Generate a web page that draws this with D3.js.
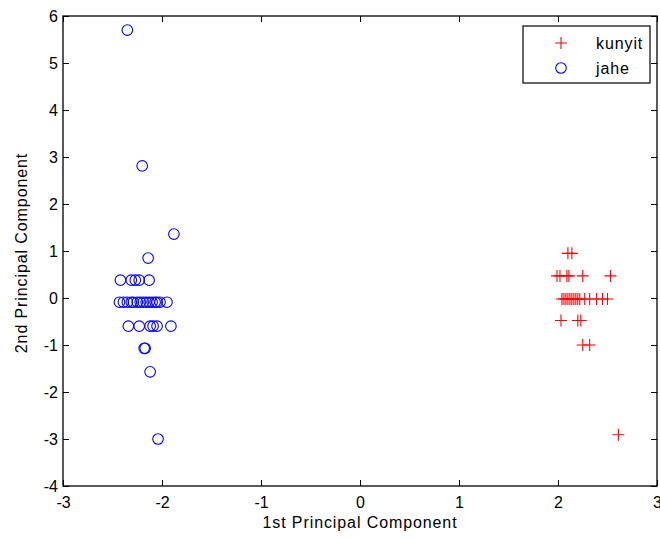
<!DOCTYPE html>
<html>
<head>
<meta charset="utf-8">
<script src="https://cdn.jsdelivr.net/npm/d3@7/dist/d3.min.js"></script>
<style>
  html, body { margin: 0; padding: 0; background: #fff; }
  svg { display: block; font-family: "Liberation Sans", Arial, sans-serif; }
</style>
</head>
<body>
<svg id="chart" width="660" height="538"></svg>
<script>
// PCA scores: jahe (ginger) samples
const jaheX = [-2.35, -2.20, -1.88, -2.14,
  -2.42, -2.31, -2.27, -2.23, -2.13,
  -2.43, -2.39, -2.35, -2.31, -2.29, -2.25, -2.22, -2.19, -2.16, -2.13, -2.10, -2.07, -2.05, -2.02, -1.95,
  -2.34, -2.23, -2.12, -2.09, -2.05, -1.91,
  -2.18, -2.17, -2.12, -2.04];
const jaheY = [5.70, 2.81, 1.36, 0.85,
  0.38, 0.38, 0.38, 0.38, 0.38,
  -0.09, -0.09, -0.09, -0.09, -0.09, -0.09, -0.09, -0.09, -0.09, -0.09, -0.09, -0.09, -0.09, -0.09, -0.09,
  -0.60, -0.60, -0.60, -0.60, -0.60, -0.60,
  -1.07, -1.07, -1.57, -3.00];

// PCA scores: kunyit (turmeric) samples
const kunyitX = [2.10, 2.14,
  1.99, 2.02, 2.09, 2.11, 2.25, 2.53,
  2.04, 2.06, 2.08, 2.10, 2.12, 2.14, 2.16, 2.18, 2.20, 2.22, 2.27, 2.32, 2.39, 2.45, 2.50,
  2.03, 2.20, 2.23,
  2.25, 2.32,
  2.61];
const kunyitY = [0.95, 0.95,
  0.47, 0.47, 0.47, 0.47, 0.47, 0.47,
  -0.02, -0.02, -0.02, -0.02, -0.02, -0.02, -0.02, -0.02, -0.02, -0.02, -0.02, -0.02, -0.02, -0.02, -0.02,
  -0.48, -0.48, -0.48,
  -1.00, -1.00,
  -2.91];

const xTicks = [-3, -2, -1, 0, 1, 2, 3];
const yTicks = [-4, -3, -2, -1, 0, 1, 2, 3, 4, 5, 6];
const seriesNames = ["kunyit", "jahe"];
const seriesColors = ["#ff0000", "#0000ff"];

const svg = d3.select("#chart");
const plotL = 63, plotR = 657, plotT = 16, plotB = 486;

const x = d3.scaleLinear().domain([-3, 3]).range([plotL, plotR]);
const y = d3.scaleLinear().domain([-4, 6]).range([plotB, plotT]);

const tickLen = 6;
const fontSize = "16px";
const spacing = "0.9px";
const plainNum = d => String(d);   // hyphen-minus, as MATLAB prints it

// Bottom axis (ticks pointing inward)
const gx = svg.append("g").attr("transform", `translate(0,${plotB})`)
  .call(d3.axisBottom(x).tickValues(xTicks).tickSizeInner(-tickLen).tickSizeOuter(0).tickPadding(11).tickFormat(plainNum));
// Top axis (mirror ticks, no labels)
const gxt = svg.append("g").attr("transform", `translate(0,${plotT})`)
  .call(d3.axisTop(x).tickValues(xTicks).tickSizeInner(-tickLen).tickSizeOuter(0).tickFormat(""));
// Left axis
const gy = svg.append("g").attr("transform", `translate(${plotL},0)`)
  .call(d3.axisLeft(y).tickValues(yTicks).tickSizeInner(-tickLen).tickSizeOuter(0).tickPadding(5).tickFormat(plainNum));
// Right axis (mirror ticks)
const gyr = svg.append("g").attr("transform", `translate(${plotR},0)`)
  .call(d3.axisRight(y).tickValues(yTicks).tickSizeInner(-tickLen).tickSizeOuter(0).tickFormat(""));

[gx, gxt, gy, gyr].forEach(g => {
  g.select(".domain").remove();
  g.selectAll("line").attr("stroke", "#000").attr("stroke-width", 1);
  g.selectAll("text").attr("fill", "#000").style("font-size", fontSize)
    .style("font-family", '"Liberation Sans", Arial, sans-serif');
});

// Axes box
svg.append("rect")
  .attr("x", plotL).attr("y", plotT)
  .attr("width", plotR - plotL).attr("height", plotB - plotT)
  .attr("fill", "none").attr("stroke", "#000").attr("stroke-width", 1.3);

// Axis titles
svg.append("text")
  .attr("x", (plotL + plotR) / 2).attr("y", 528)
  .attr("text-anchor", "middle").style("font-size", fontSize).style("letter-spacing", spacing)
  .text("1st Principal Component");
svg.append("text")
  .attr("transform", `translate(27,${(plotT + plotB) / 2 + 2}) rotate(-90)`)
  .attr("text-anchor", "middle").style("font-size", fontSize).style("letter-spacing", spacing)
  .text("2nd Principal Component");

// Plus marker path
const plusPath = s => `M${-s},0H${s}M0,${-s}V${s}`;

// kunyit points (+)
svg.append("g").selectAll("path")
  .data(d3.zip(kunyitX, kunyitY))
  .join("path")
  .attr("transform", d => `translate(${x(d[0])},${y(d[1])})`)
  .attr("d", plusPath(6))
  .attr("stroke", seriesColors[0]).attr("stroke-width", 1.1).attr("fill", "none");

// jahe points (o)
svg.append("g").selectAll("circle")
  .data(d3.zip(jaheX, jaheY))
  .join("circle")
  .attr("cx", d => x(d[0])).attr("cy", d => y(d[1]))
  .attr("r", 5.3)
  .attr("stroke", seriesColors[1]).attr("stroke-width", 1.1).attr("fill", "none");

// Legend
const lg = svg.append("g");
lg.append("rect")
  .attr("x", 523).attr("y", 26).attr("width", 127).attr("height", 57)
  .attr("fill", "#fff").attr("stroke", "#000").attr("stroke-width", 1.2);
const legendRows = [43, 68];
lg.append("path")
  .attr("transform", `translate(561,${legendRows[0]})`)
  .attr("d", plusPath(6))
  .attr("stroke", seriesColors[0]).attr("stroke-width", 1.1).attr("fill", "none");
lg.append("circle")
  .attr("cx", 561).attr("cy", legendRows[1]).attr("r", 5.3)
  .attr("stroke", seriesColors[1]).attr("stroke-width", 1.1).attr("fill", "none");
seriesNames.forEach((name, i) => {
  lg.append("text")
    .attr("x", 596).attr("y", legendRows[i] + 6)
    .style("font-size", fontSize).style("letter-spacing", spacing)
    .text(name);
});
</script>
</body>
</html>
